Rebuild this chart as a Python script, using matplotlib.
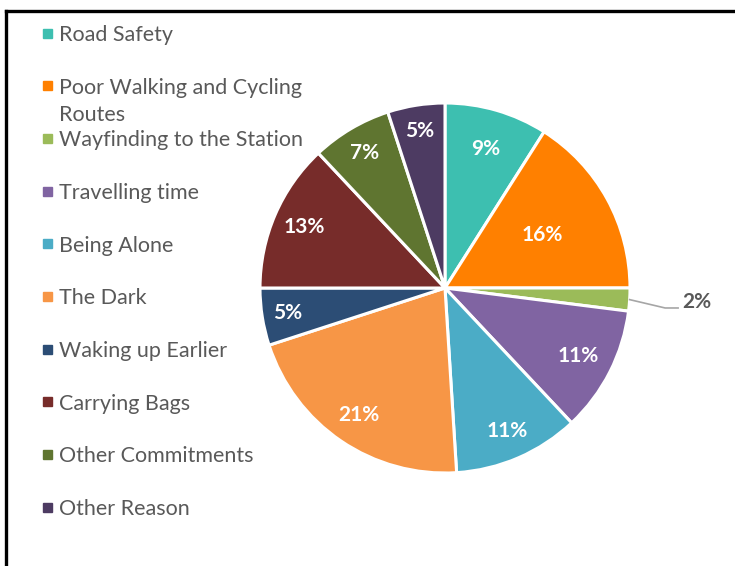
import matplotlib.pyplot as plt
import matplotlib
import numpy as np
from matplotlib.lines import Line2D
from matplotlib.patches import Rectangle

matplotlib.rcParams['font.family'] = ['Lato', 'DejaVu Sans']

reasons = ['Road Safety', 'Poor Walking and Cycling\nRoutes', 'Wayfinding to the Station',
           'Travelling time', 'Being Alone', 'The Dark', 'Waking up Earlier',
           'Carrying Bags', 'Other Commitments', 'Other Reason']
shares = [9, 16, 2, 11, 11, 21, 5, 13, 7, 5]
colors = ['#3DBFB0', '#FF8000', '#9BBB59', '#8064A2', '#4BACC6',
          '#F79646', '#2C4D75', '#772C2A', '#5F7530', '#4D3B62']
# how far out each percentage sits (fraction of radius), None = outside with leader
label_r = [0.78, 0.60, None, 0.81, 0.84, 0.83, 0.86, 0.83, 0.85, 0.86]

W, H = 735, 566
fig = plt.figure(figsize=(W / 100, H / 100), dpi=100)

# pie centre at (445, 288) px, radius 185 px
cx, cy, rad = 445, 288, 185
ax = fig.add_axes([(cx - rad) / W, (H - cy - rad) / H, 2 * rad / W, 2 * rad / H])
wedges, _ = ax.pie(shares, colors=colors, startangle=90, counterclock=False, radius=1,
                   wedgeprops=dict(edgecolor='white', linewidth=2.2))
ax.set_xlim(-1, 1)
ax.set_ylim(-1, 1)
ax.set_aspect('equal')
ax.axis('off')

for w, v, r in zip(wedges, shares, label_r):
    mid = np.deg2rad((w.theta1 + w.theta2) / 2)
    if r is None:
        x0, y0 = np.cos(mid), np.sin(mid)
        ax.add_line(Line2D([x0, 1.19, 1.26], [y0, -0.108, -0.108], color='#A6A6A6',
                           lw=1.2, clip_on=False))
        ax.text(1.28, -0.075, f'{v}%', ha='left', va='center', fontsize=15,
                fontweight='bold', color='#595959', clip_on=False)
    else:
        ax.text(r * np.cos(mid), r * np.sin(mid), f'{v}%', ha='center', va='center',
                fontsize=15, fontweight='bold', color='white')

# legend on the left, drawn by hand
step = (507 - 33) / 9
for i, (lab, c) in enumerate(zip(reasons, colors)):
    yp = 33 + i * step
    fig.patches.append(Rectangle((43 / W, 1 - (yp + 4.5) / H), 9 / W, 9 / H,
                                 transform=fig.transFigure, color=c))
    for k, line in enumerate(lab.split('\n')):
        fig.text(59 / W, 1 - (yp + 2 + 27 * k) / H, line, ha='left', va='center',
                 fontsize=15.5, color='#595959')

# black frame along top and left
fig.add_artist(Line2D([6 / W, 1], [1 - 11 / H, 1 - 11 / H], color='black', lw=2.4,
                      transform=fig.transFigure))
fig.add_artist(Line2D([6 / W, 6 / W], [0, 1 - 11 / H], color='black', lw=2.4,
                      transform=fig.transFigure))

plt.savefig('out.png', dpi=100, facecolor='white')
plt.close()
